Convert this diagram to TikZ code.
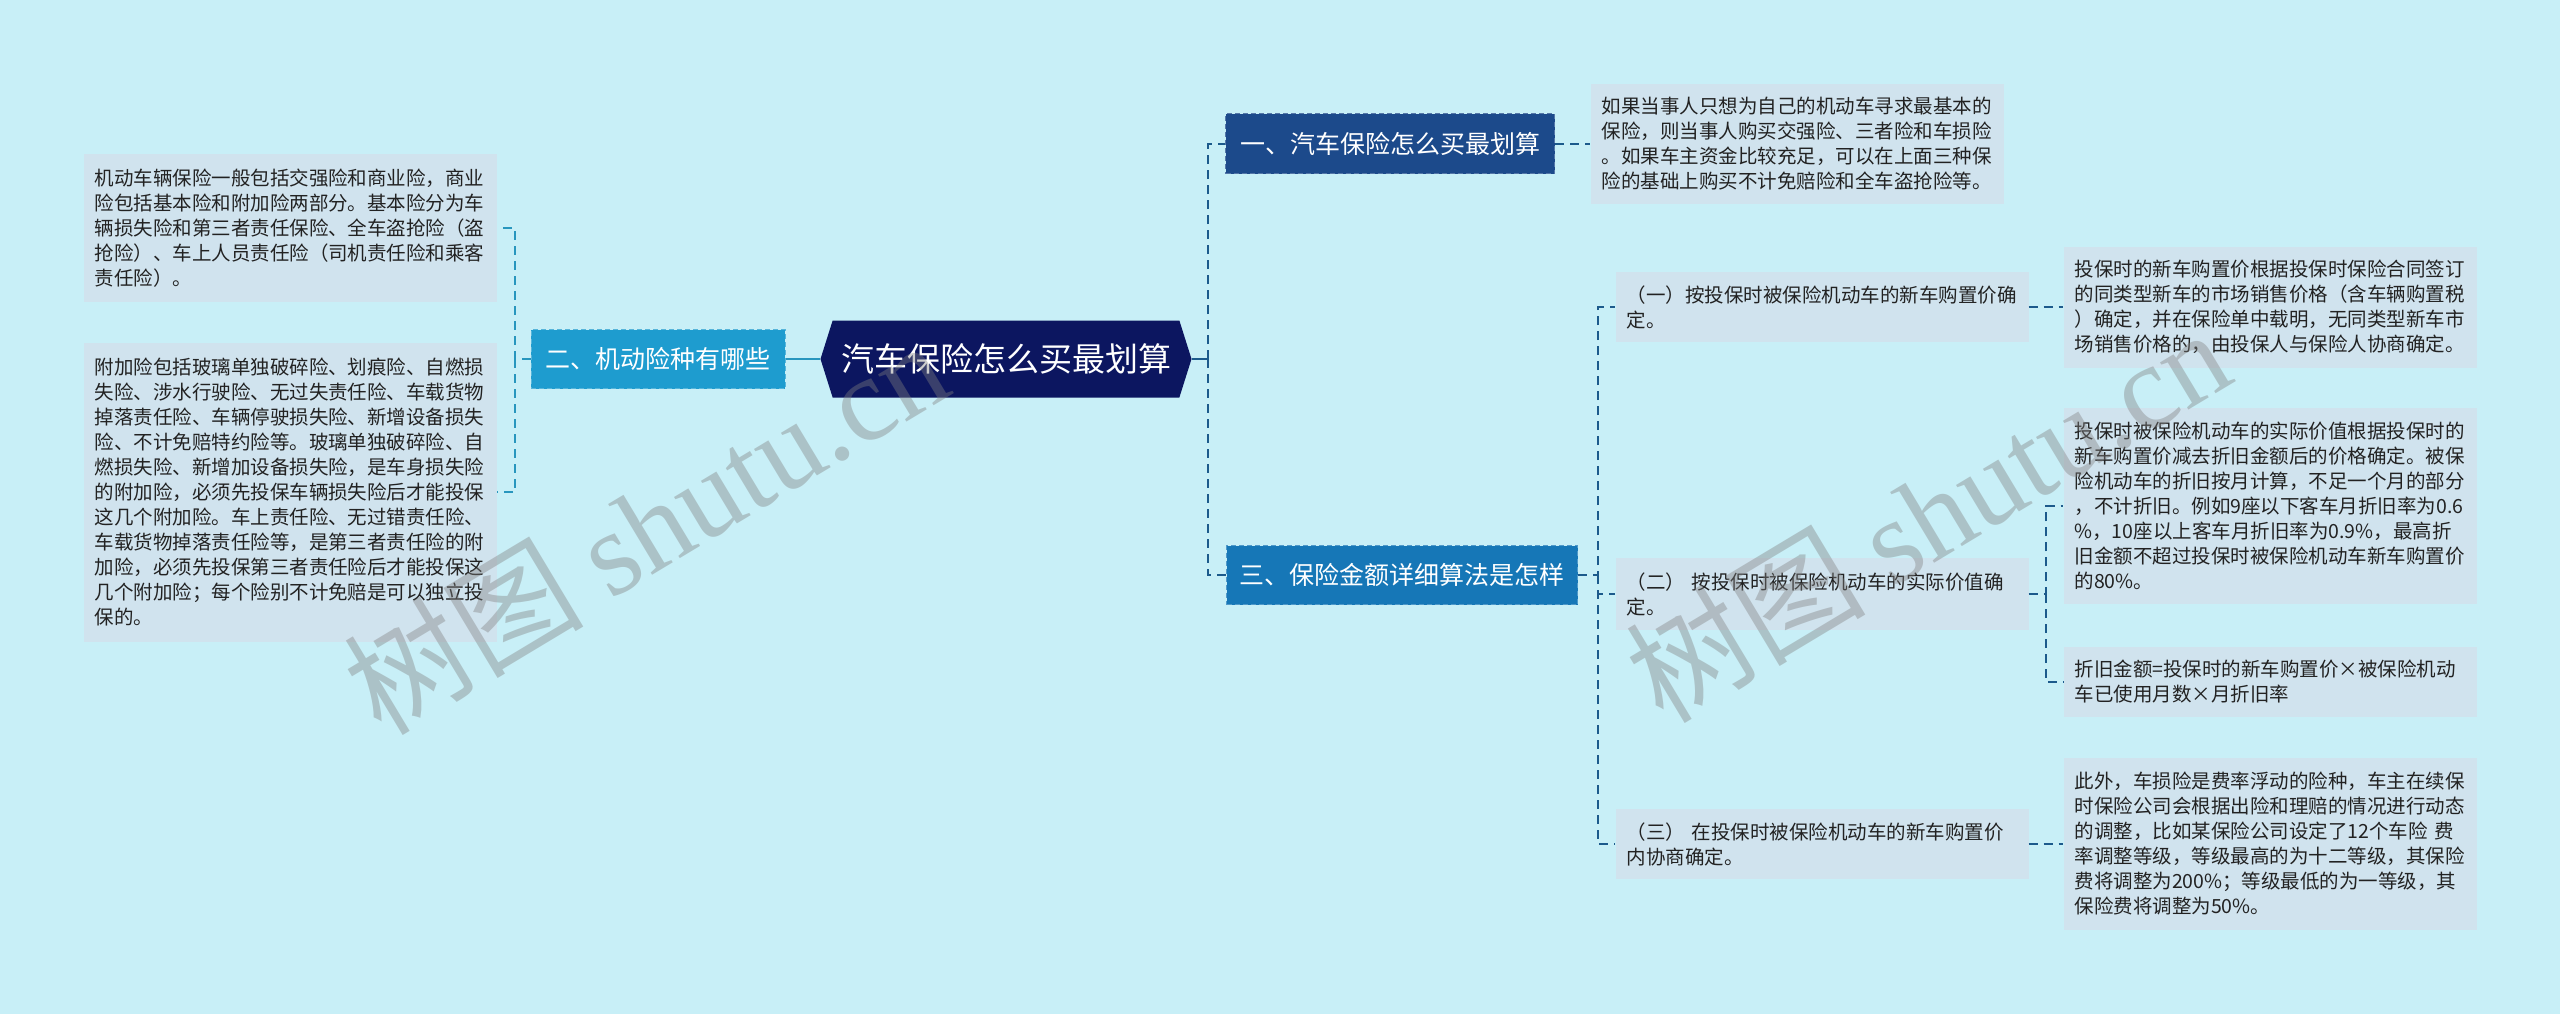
\documentclass[tikz,border=0pt]{standalone}
\usepackage{fontspec}
\setmainfont{Noto Sans CJK SC}
\newfontfamily\markfont{Liberation Serif}
\usetikzlibrary{shapes.symbols}
\definecolor{pagebg}{RGB}{200,239,247}
\definecolor{leaffill}{RGB}{208,227,238}
\definecolor{rootfill}{RGB}{12,22,96}
\definecolor{firstfill}{RGB}{28,74,139}
\definecolor{secondfill}{RGB}{30,156,207}
\definecolor{thirdfill}{RGB}{22,119,183}
\definecolor{leftline}{RGB}{40,150,190}
\definecolor{rightline}{RGB}{28,90,140}
\definecolor{inkgray}{RGB}{34,34,34}
\tikzset{leafbox/.style={fill=leaffill,text=inkgray,text width=391pt,inner xsep=11pt,
 inner ysep=0pt,align=left,font=\fontsize{19.5}{25}\selectfont},
 branch/.style={fill=#1,draw=#1!75!white,dash pattern=on 5pt off 3pt,line width=1pt,
 text=white,inner sep=0pt,font=\fontsize{25}{30}\selectfont},
 rootnode/.style={shape=signal,signal to=east and west,signal pointer angle=145,
 fill=rootfill,text=white,minimum width=371pt,minimum height=77pt,inner sep=0pt,
 font=\fontsize{33}{40}\selectfont},
 link/.style={line width=2pt,dash pattern=on 9pt off 6pt},
 watermark/.style={text=gray,text opacity=0.4,font=\fontsize{120}{130}\selectfont}}

\begin{document}
\begin{tikzpicture}[x=1pt,y=-1pt]
\useasboundingbox (0,0) rectangle (2560,1014);
\fill[pagebg] (0,0) rectangle (2560,1014);
% centre and the three branches
\node[rootnode] (root) at (1006,359) {汽车保险怎么买最划算};
\node[branch=firstfill,minimum width=329pt,minimum height=60pt] (b1) at (1390,144) {一、汽车保险怎么买最划算};
\node[branch=secondfill,minimum width=254pt,minimum height=59pt] (b2) at (658,359) {二、机动险种有哪些};
\node[branch=thirdfill,minimum width=351pt,minimum height=59pt] (b3) at (1402,575) {三、保险金额详细算法是怎样};
% left side
\node[leafbox,minimum height=148pt] (la) at (290,228) {机动车辆保险一般包括交强险和商业险，商业\\
险包括基本险和附加险两部分。基本险分为车\\
辆损失险和第三者责任保险、全车盗抢险（盗\\
抢险）、车上人员责任险（司机责任险和乘客\\
责任险）。};
\node[leafbox,minimum height=299pt] (lb) at (290,492) {附加险包括玻璃单独破碎险、划痕险、自燃损\\
失险、涉水行驶险、无过失责任险、车载货物\\
掉落责任险、车辆停驶损失险、新增设备损失\\
险、不计免赔特约险等。玻璃单独破碎险、自\\
燃损失险、新增加设备损失险，是车身损失险\\
的附加险，必须先投保车辆损失险后才能投保\\
这几个附加险。车上责任险、无过错责任险、\\
车载货物掉落责任险等，是第三者责任险的附\\
加险，必须先投保第三者责任险后才能投保这\\
几个附加险；每个险别不计免赔是可以独立投\\
保的。};
% right side
\node[leafbox,minimum height=120pt] (r0) at (1797,144) {如果当事人只想为自己的机动车寻求最基本的\\
保险，则当事人购买交强险、三者险和车损险\\
。如果车主资金比较充足，可以在上面三种保\\
险的基础上购买不计免赔险和全车盗抢险等。};
\node[leafbox,minimum height=70pt] (s1) at (1822,307) {（一）按投保时被保险机动车的新车购置价确\\定。};
\node[leafbox,minimum height=72pt] (s2) at (1822,594) {（二） 按投保时被保险机动车的实际价值确\\定。};
\node[leafbox,minimum height=70pt] (s3) at (1822,844) {（三） 在投保时被保险机动车的新车购置价\\内协商确定。};
\node[leafbox,minimum height=121pt] (r1) at (2270,307) {投保时的新车购置价根据投保时保险合同签订\\
的同类型新车的市场销售价格（含车辆购置税\\
）确定，并在保险单中载明，无同类型新车市\\
场销售价格的，由投保人与保险人协商确定。};
\node[leafbox,minimum height=196pt] (r2a) at (2270,506) {投保时被保险机动车的实际价值根据投保时的\\
新车购置价减去折旧金额后的价格确定。被保\\
险机动车的折旧按月计算，不足一个月的部分\\
，不计折旧。例如9座以下客车月折旧率为0.6\\
\%，10座以上客车月折旧率为0.9\%，最高折\\
旧金额不超过投保时被保险机动车新车购置价\\
的80\%。};
\node[leafbox,minimum height=70pt] (r2b) at (2270,682) {折旧金额=投保时的新车购置价×被保险机动\\
车已使用月数×月折旧率};
\node[leafbox,minimum height=172pt] (r3) at (2270,844) {此外，车损险是费率浮动的险种，车主在续保\\
时保险公司会根据出险和理赔的情况进行动态\\
的调整，比如某保险公司设定了12个车险 费\\
率调整等级，等级最高的为十二等级，其保险\\
费将调整为200\%；等级最低的为一等级，其\\
保险费将调整为50\%。};
% joints
\coordinate (lj) at (515,359);
\coordinate (rj) at (1208,359);
\coordinate (tj) at (1598,575);
\coordinate (uj) at (2046,594);
% connectors
\draw[leftline,line width=2pt] (root.west) -- (b2.east);
\draw[link,leftline] (b2.west) -- (lj) |- (la.east);
\draw[link,leftline] (lj) |- (lb.east);
\draw[rightline,line width=2pt] (root.east) -- (rj);
\draw[link,rightline] (rj) |- (b1.west);
\draw[link,rightline] (rj) |- (b3.west);
\draw[link,rightline] (b1.east) -- (r0.west);
\draw[link,rightline] (b3.east) -- (tj) |- (s1.west);
\draw[link,rightline] (tj) |- (s2.west);
\draw[link,rightline] (tj) |- (s3.west);
\draw[link,rightline] (s1.east) -- (r1.west);
\draw[link,rightline] (s2.east) -- (uj) |- (r2a.west);
\draw[link,rightline] (uj) |- (r2b.west);
\draw[link,rightline] (s3.east) -- (r3.west);
% marks
\node[watermark,rotate=31] (markleft) at (645,526) {树图 {\markfont shutu.cn}};
\node[watermark,rotate=31] (markright) at (1927,514) {树图 {\markfont shutu.cn}};
\end{tikzpicture}
\end{document}
